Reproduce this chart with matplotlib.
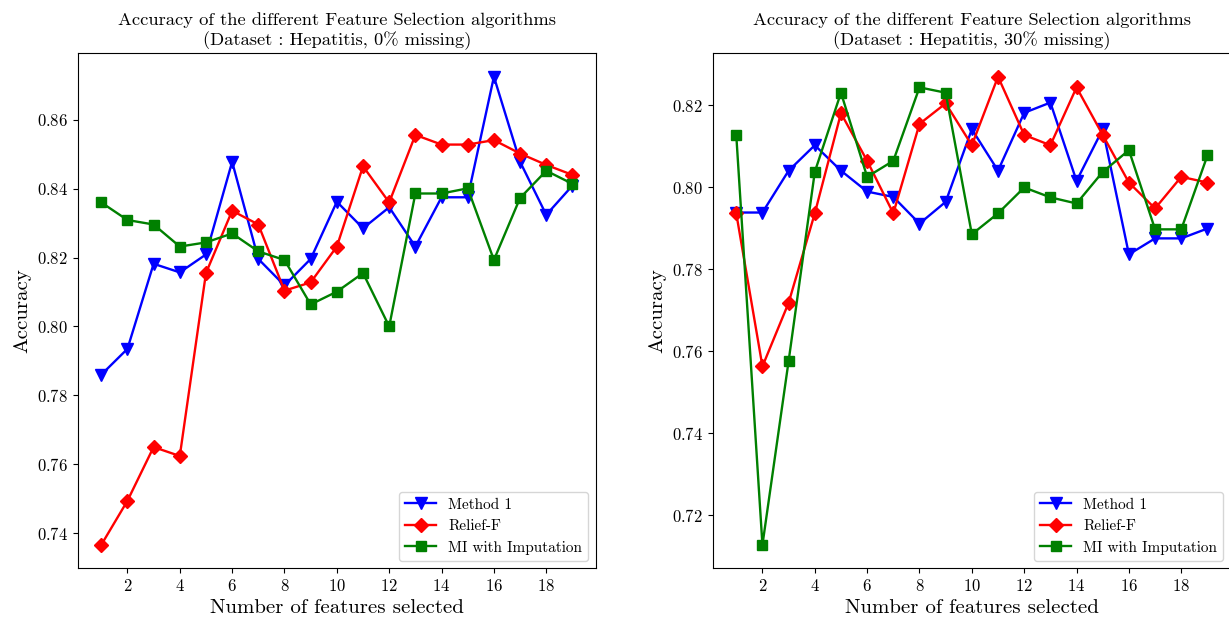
import matplotlib
matplotlib.use("Agg")
import matplotlib.pyplot as plt

plt.rcParams['font.family'] = ['cmr10', 'DejaVu Serif']
plt.rcParams['mathtext.fontset'] = 'cm'
plt.rcParams['axes.formatter.use_mathtext'] = True

features = list(range(1, 20))

# Left: 0% missing
m1_0 = [0.786, 0.7935, 0.8182, 0.8157, 0.8209, 0.8478, 0.8196, 0.8119, 0.8196, 0.8362,
        0.8285, 0.8346, 0.8232, 0.8375, 0.8375, 0.8725, 0.8478, 0.8324, 0.8409]
rf_0 = [0.7366, 0.7494, 0.7650, 0.7624, 0.8155, 0.8336, 0.8296, 0.8104, 0.8128, 0.8232,
        0.8465, 0.8360, 0.8556, 0.8528, 0.8528, 0.8541, 0.8502, 0.8469, 0.8440]
mi_0 = [0.8360, 0.8309, 0.8296, 0.8232, 0.8244, 0.8270, 0.8218, 0.8193, 0.8064, 0.8101,
        0.8155, 0.8000, 0.8386, 0.8386, 0.8401, 0.8193, 0.8373, 0.8452, 0.8414]

# Right: 30% missing
m1_30 = [0.7938, 0.7938, 0.8040, 0.8102, 0.8040, 0.7989, 0.7976, 0.7911, 0.7964, 0.8141,
         0.8040, 0.8181, 0.8206, 0.8015, 0.8141, 0.7836, 0.7875, 0.7875, 0.7899]
rf_30 = [0.7936, 0.7563, 0.7718, 0.7936, 0.8180, 0.8064, 0.7936, 0.8154, 0.8204, 0.8102,
         0.8269, 0.8127, 0.8102, 0.8243, 0.8127, 0.8011, 0.7948, 0.8025, 0.8011]
mi_30 = [0.8127, 0.7128, 0.7576, 0.8037, 0.8230, 0.8025, 0.8064, 0.8243, 0.8230, 0.7885,
         0.7936, 0.7999, 0.7975, 0.7960, 0.8037, 0.8090, 0.7897, 0.7897, 0.8077]

titles = ["Accuracy of the different Feature Selection algorithms\n(Dataset : Hepatitis, 0% missing)",
          "Accuracy of the different Feature Selection algorithms\n(Dataset : Hepatitis, 30% missing)"]
labels = ["Method 1", "Relief-F", "MI with Imputation"]

W, H = 1229, 619
fig = plt.figure(figsize=(W / 100, H / 100), dpi=100)
ax1 = fig.add_axes([77.7 / W, 1 - 568.3 / H, (596 - 77.7) / W, (568.3 - 53.3) / H])
ax2 = fig.add_axes([712.7 / W, 1 - 568.3 / H, (596 - 77.7) / W, (568.3 - 53.3) / H])

for ax, (m1, rf, mi), title in zip([ax1, ax2], [(m1_0, rf_0, mi_0), (m1_30, rf_30, mi_30)], titles):
    ax.plot(features, m1, color='blue', marker='v', markersize=8, linewidth=1.7, label=labels[0])
    ax.plot(features, rf, color='red', marker='D', markersize=7, linewidth=1.7, label=labels[1])
    ax.plot(features, mi, color='green', marker='s', markersize=7, linewidth=1.7, label=labels[2])
    ax.set_title(title, fontsize=13.3, linespacing=1.2)
    ax.set_xlabel("Number of features selected", fontsize=15)
    ax.set_ylabel("Accuracy", fontsize=15)
    ax.set_xticks(range(2, 20, 2))
    ax.tick_params(labelsize=12)
    ax.legend(loc='lower right', fontsize=11)

ax1.set_yticks([0.74, 0.76, 0.78, 0.80, 0.82, 0.84, 0.86])
ax2.set_yticks([0.72, 0.74, 0.76, 0.78, 0.80, 0.82])

fig.savefig("out.png", dpi=100)
